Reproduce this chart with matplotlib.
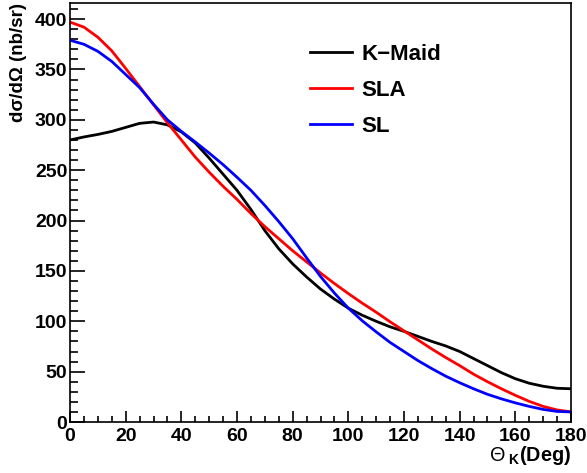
import matplotlib

matplotlib.use("Agg")
import matplotlib.pyplot as plt
from matplotlib.ticker import MultipleLocator

# Kaon angle (deg) and cross sections (nb/sr)
theta = [0, 5, 10, 15, 20, 25, 30, 35, 40, 45, 50, 55, 60, 65, 70, 75, 80, 85, 90,
         95, 100, 105, 110, 115, 120, 125, 130, 135, 140, 145, 150, 155, 160, 165,
         170, 175, 180]
kmaid = [280, 283, 285.5, 288.5, 292.5, 296.5, 297.8, 295, 288, 277, 262, 246, 230,
         211, 190, 172, 157, 144, 132, 122, 113, 106, 100, 94.5, 90, 85, 80, 75.5,
         70, 63, 56, 49, 43, 38.5, 35.5, 33.5, 33]
sla = [397, 392, 382, 368.5, 351, 333, 315, 297, 280, 263, 248, 234, 221, 207, 194,
       182, 170, 159, 148, 137.5, 127.5, 118, 109, 99.5, 90.5, 81.5, 72.5, 64, 56,
       47.5, 40, 33, 26.5, 20.5, 15.5, 12, 10]
sl = [379, 375, 368, 358, 345, 332, 315.5, 300, 288.5, 278, 267, 255.5, 243, 230,
      215, 199, 182, 163, 144.5, 128, 113, 100.5, 89.5, 79, 70, 61, 53, 45.5, 39, 33,
      27.5, 23, 19, 15.5, 12.5, 10.5, 10]

plt.rcParams["font.family"] = ["Liberation Sans", "DejaVu Sans"]
plt.rcParams["mathtext.fontset"] = "custom"
plt.rcParams["mathtext.rm"] = "Liberation Sans"
plt.rcParams["mathtext.bf"] = "Liberation Sans:bold"
plt.rcParams["mathtext.it"] = "Liberation Sans:italic"

fig = plt.figure(figsize=(5.87, 4.73), dpi=100)
ax = fig.add_axes([0.1193, 0.1078, 0.8534, 0.8859])

ax.plot(theta, kmaid, color="black", lw=2, label="K\u2212Maid")
ax.plot(theta, sla, color="#ff0000", lw=2, label="SLA")
ax.plot(theta, sl, color="#0000ff", lw=2, label="SL")

ax.set_xlim(0, 180)
ax.set_ylim(0, 416)

ax.xaxis.set_major_locator(MultipleLocator(20))
ax.xaxis.set_minor_locator(MultipleLocator(5))
ax.yaxis.set_major_locator(MultipleLocator(50))
ax.yaxis.set_minor_locator(MultipleLocator(10))
ax.tick_params(axis="x", which="major", direction="in", length=8, width=1.2)
ax.tick_params(axis="x", which="minor", direction="in", length=4, width=1.2)
ax.tick_params(axis="y", which="major", direction="in", length=10.5, width=1.2)
ax.tick_params(axis="y", which="minor", direction="in", length=5.5, width=1.2)
ax.tick_params(axis="both", which="both", top=False, right=False, labelsize=14)
ax.tick_params(axis="x", pad=4)
ax.tick_params(axis="y", pad=2)
for lab in ax.get_xticklabels() + ax.get_yticklabels():
    lab.set_fontweight("bold")
for sp in ax.spines.values():
    sp.set_linewidth(1.2)

fig.text(0.032, 0.9937, "d\u03c3/d\u03a9 (nb/sr)", rotation=90, ha="center", va="top",
         fontsize=13.5, fontweight="bold")
fig.text(0.9727, 0.038, r"$\Theta_{\ \mathbf{K}}$(Deg)", ha="right", va="center",
         fontsize=14.3, fontweight="bold")

leg = ax.legend(loc="upper left", bbox_to_anchor=(0.479, 0.903), frameon=False,
                fontsize=16, handlelength=1.9, handletextpad=0.4, labelspacing=0.68,
                borderaxespad=0, borderpad=0)
for t in leg.get_texts():
    t.set_fontweight("bold")
for h in leg.get_lines():
    h.set_linewidth(2)

fig.savefig("out.png", dpi=100)
